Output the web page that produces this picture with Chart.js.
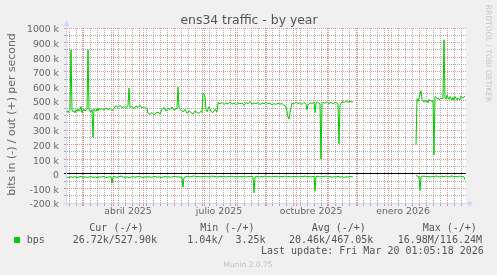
<!DOCTYPE html>
<html><head><meta charset="utf-8">
<script src="https://cdn.jsdelivr.net/npm/chart.js@4.4.1/dist/chart.umd.min.js"></script>
<style>html,body{margin:0;padding:0;background:#F0F0F0;}canvas{display:block}</style>
</head><body>
<canvas id="c" width="497" height="275" style="width:497px;height:275px"></canvas>
<script>
// ---- data (x = days since start of the 400-day window, values in kbit/s) ----
const outDays = [
 1,2,3,4,5,6,7,8,9,10,
 11,12,13,14,15,16,17,18,19,20,
 21,22,23,24,25,26,27,28,29,30,
 31,32,33,34,36,38,40,42,44,46,
 48,50,52,54,56,58,60,62,63,64,
 66,68,70,72,74,76,78,80,81,82,
 84,86,88,90,92,94,96,98,100,102,
 104,106,108,110,111,112,113,115,117,119,
 121,123,125,127,129,131,133,135,136,137,
 139,140,141,143,145,147,149,150,151,152,
 154,156,158,160,162,164,166,168,170,172,
 174,176,178,180,182,184,186,188,190,192,
 194,196,198,200,202,204,206,208,210,212,
 214,216,218,220,222,223,224,226,228,230,
 232,234,236,238,240,241,242,244,246,248,
 249,250,251,252,254,255,256,257,259,261,
 263,265,267,269,271,272,273,274,276,278,
 280,282,284,286,287,318,350,351,352,353,
 355,356,357,358,359,360,361,362,363,364,
 365,366,367,368,369,370,371,372,373,374,
 375,376,377,378,379,380,381,382,383,384,
 385,386,387,388,389,390,391,392,393,394,
 395,396,397,398,399
];
const outKbps = [
 435,420,432,440,850,438,425,432,418,440,
 428,445,430,438,462,420,440,445,430,438,
 442,850,438,430,425,440,252,445,435,428,
 448,432,450,440,448,435,452,440,448,432,
 450,468,455,470,452,462,448,470,588,455,
 462,448,466,455,470,452,462,448,450,415,
 408,420,405,418,422,410,442,455,430,452,
 440,458,435,445,450,594,452,440,425,442,
 415,432,420,410,432,420,415,430,420,553,
 530,440,425,460,428,420,442,430,425,488,
 480,490,476,486,480,492,478,486,474,488,
 480,486,470,490,480,496,478,486,480,490,
 474,486,480,492,480,486,472,482,476,484,
 478,482,470,462,390,375,420,486,478,492,
 482,488,476,490,478,439,470,488,482,492,
 420,485,495,488,480,101,480,490,484,494,
 480,492,478,490,486,480,206,470,496,488,
 500,490,498,492,495,null,200,514,496,520,
 569,510,500,492,505,495,500,488,510,500,
 505,495,505,130,530,525,515,520,508,512,
 520,515,518,919,520,512,540,522,510,530,
 520,505,525,508,530,518,505,520,512,508,
 535,525,518,530,528
];
const inDays = [
 1,3,5,7,9,11,13,15,17,19,
 21,23,25,27,29,31,33,35,37,39,
 41,43,45,46,47,49,51,53,55,57,
 59,61,63,65,67,69,71,73,75,77,
 79,81,83,85,87,89,91,93,95,97,
 99,101,103,105,107,109,111,113,115,116,
 117,118,120,122,124,126,128,130,132,134,
 136,138,140,142,144,146,148,150,152,154,
 156,158,160,162,164,166,168,170,172,174,
 176,178,180,182,184,186,187,188,189,191,
 193,195,197,199,201,203,205,207,209,211,
 213,215,217,219,221,223,225,227,229,231,
 233,235,237,239,241,243,245,247,248,249,
 250,252,254,256,258,260,262,264,266,268,
 270,272,274,276,278,280,282,284,286,287,
 318,350,351,352,353,354,355,356,358,360,
 362,364,366,368,370,372,374,376,378,380,
 382,384,386,388,390,392,394,396,397,398,
 399
];
const inKbps = [
 22,25,20,24,19,26,21,18,24,20,
 25,22,19,24,21,26,20,23,18,22,
 25,20,22,64,22,19,24,20,15,21,
 24,20,26,22,19,23,20,16,22,25,
 20,23,19,24,21,18,23,20,25,22,
 18,22,20,24,19,16,22,20,24,26,
 91,24,20,15,22,18,14,20,17,22,
 18,20,16,22,18,15,20,18,22,17,
 20,16,22,18,20,15,21,18,22,17,
 20,16,22,18,20,16,22,130,20,16,
 22,18,20,15,21,18,22,17,20,16,
 22,18,20,15,20,18,22,17,20,16,
 22,18,20,15,21,18,22,17,20,120,
 20,16,22,18,20,15,21,18,24,19,
 22,17,23,19,25,20,22,18,21,20,
 null,7,14,18,20,115,22,18,15,20,
 17,22,16,20,14,19,22,16,20,15,
 22,18,14,20,17,22,15,20,18,22,
 41
];
// axis ticks
const monthStartDays = [16,47,77,108,138,169,200,230,261,291,322,353,381];
const monthLabelDays = [62,153,245,337];
const monthLabels = ['abril 2025','julio 2025','octubre 2025','enero 2026'];
const yTickValues = [-200,-100,0,100,200,300,400,500,600,700,800,900,1000];
const yTickLabels = ['-200 k','-100 k','0','100 k','200 k','300 k','400 k','500 k','600 k','700 k','800 k','900 k','1000 k'];
// texts
const titleText = 'ens34 traffic - by year';
const yTitle = 'bits in (-) / out (+) per second';
const legendHead = ['Cur (-/+)','Min (-/+)','Avg (-/+)','Max (-/+)'];
const legendVals = ['26.72k/527.90k','1.04k/  3.25k','20.46k/467.05k','16.98M/116.24M'];
const lastUpdate = 'Last update: Fri Mar 20 01:05:18 2026';

const GREEN = '#00CC00';
const MGRID = 'rgba(222,79,79,0.6)';
const GRID = 'rgba(143,143,143,0.75)';
const AXIS = '#CFD6F8';
const FONT = '#666666';

// x tick list: month lines, weekly lines, label anchors
const weekDays = [];
for (let d = 3; d <= 400; d += 7) if (!monthStartDays.includes(d)) weekDays.push(d);
const xTickList = [...new Set([...monthStartDays, ...weekDays, ...monthLabelDays])].sort((a,b)=>a-b);
const yMinor = [];
for (let i = 0; i < yTickValues.length - 1; i++) yMinor.push((yTickValues[i] + yTickValues[i+1]) / 2);
const yTickList = [...yTickValues, ...yMinor].sort((a,b)=>a-b);

const decor = {
  id: 'decor',
  beforeDraw(chart) {
    const c = chart.ctx, a = chart.chartArea;
    c.save();
    c.fillStyle = '#F0F0F0'; c.fillRect(0, 0, chart.width, chart.height);
    c.fillStyle = '#FFFFFF'; c.fillRect(a.left, a.top, a.right - a.left, a.bottom - a.top);
    c.restore();
  },
  afterDraw(chart) {
    const c = chart.ctx, a = chart.chartArea;
    c.save();
    // axis extensions and arrows
    c.strokeStyle = AXIS; c.fillStyle = AXIS; c.lineWidth = 1;
    c.beginPath(); c.moveTo(a.left + 0.5, a.top - 3); c.lineTo(a.left + 0.5, a.bottom + 3); c.stroke();
    c.beginPath(); c.moveTo(a.left - 3, a.bottom + 0.5); c.lineTo(a.right + 3, a.bottom + 0.5); c.stroke();
    c.beginPath(); c.moveTo(a.left + 0.5, a.top - 8); c.lineTo(a.left - 2.5, a.top - 2); c.lineTo(a.left + 3.5, a.top - 2); c.closePath(); c.fill();
    c.beginPath(); c.moveTo(a.right + 7, a.bottom + 0.5); c.lineTo(a.right + 2, a.bottom - 2.5); c.lineTo(a.right + 2, a.bottom + 3.5); c.closePath(); c.fill();
    // title
    c.fillStyle = '#555555';
    c.font = '12.4px "DejaVu Sans"'; c.textAlign = 'center'; c.textBaseline = 'alphabetic';
    c.fillText(titleText, 249, 24);
    // y title
    c.save();
    c.translate(14.7, (a.top + a.bottom) / 2 - 1); c.rotate(-Math.PI / 2);
    c.font = '10.9px "DejaVu Sans"'; c.fillStyle = FONT; c.textAlign = 'center';
    c.fillText(yTitle, 0, 0);
    c.restore();
    // watermark right
    c.save();
    c.translate(485.5, 53.5); c.rotate(Math.PI / 2);
    c.font = '7.6px "DejaVu Sans"'; c.fillStyle = '#C6C6C6'; c.textAlign = 'center';
    c.fillText('RRDTOOL / TOBI OETIKER', 0, 0);
    c.restore();
    // legend
    c.font = '10px "DejaVu Sans Mono"'; c.fillStyle = '#555555'; c.textAlign = 'left';
    const hx = [89.3, 200.3, 311.7, 422.7];
    legendHead.forEach((t, i) => c.fillText(t, hx[i], 231));
    const vx = [72.7, 187.3, 289, 397.7];
    legendVals.forEach((t, i) => c.fillText(t, vx[i], 242.5));
    c.fillText('bps', 26.7, 242.5);
    c.fillText(lastUpdate, 261, 254);
    c.fillStyle = GREEN; c.fillRect(14, 237, 6, 6);
    c.font = '7.5px "DejaVu Sans"'; c.fillStyle = '#C0C0C0'; c.textAlign = 'center';
    c.fillText('Munin 2.0.75', 248, 267);
    c.restore();
  }
};

new Chart(document.getElementById('c'), {
  type: 'line',
  data: {
    datasets: [
      { label: 'out', data: outDays.map((d, i) => ({ x: d, y: outKbps[i] })),
        borderColor: GREEN, borderWidth: 1, pointRadius: 0, tension: 0, spanGaps: false },
      { label: 'in', data: inDays.map((d, i) => ({ x: d, y: inKbps[i] === null ? null : -inKbps[i] })),
        borderColor: GREEN, borderWidth: 1, pointRadius: 0, tension: 0, spanGaps: false }
    ]
  },
  options: {
    responsive: false, animation: false, events: [],
    layout: { padding: { left: 0, right: 31, top: 28, bottom: 0 } },
    plugins: { legend: { display: false }, tooltip: { enabled: false }, title: { display: false } },
    scales: {
      x: {
        type: 'linear', min: 0, max: 400,
        afterBuildTicks: s => { s.ticks = xTickList.map(v => ({ value: v })); },
        afterFit: s => { s.height = 72; },
        grid: {
          color: ctx => {
            const v = ctx.tick ? ctx.tick.value : null;
            if (monthStartDays.includes(v)) return MGRID;
            if (weekDays.includes(v)) return GRID;
            return 'rgba(0,0,0,0)';
          },
          lineWidth: 1, tickLength: 3
        },
        border: { color: AXIS, width: 1, dash: ctx => ctx.tick ? [1, 1] : [] },
        ticks: {
          autoSkip: false, maxRotation: 0, minRotation: 0, padding: 0, color: FONT,
          font: { family: "'DejaVu Sans'", size: 9.4 },
          callback: v => { const i = monthLabelDays.indexOf(v); return i >= 0 ? monthLabels[i] : ''; }
        }
      },
      y: {
        min: -200, max: 1000,
        afterBuildTicks: s => { s.ticks = yTickList.map(v => ({ value: v })); },
        afterFit: s => { s.width = 66; },
        grid: {
          color: ctx => {
            const v = ctx.tick ? ctx.tick.value : null;
            if (v === 0) return '#000000';
            return yTickValues.includes(v) ? MGRID : GRID;
          },
          lineWidth: 1, tickLength: 2
        },
        border: { color: AXIS, width: 1, dash: ctx => (ctx.tick && ctx.tick.value !== 0) ? [1, 1] : [] },
        ticks: {
          autoSkip: false, padding: 5, labelOffset: 2, color: FONT,
          font: { family: "'DejaVu Sans'", size: 9.3 },
          callback: v => { const i = yTickValues.indexOf(v); return i >= 0 ? yTickLabels[i] : ''; }
        }
      }
    }
  },
  plugins: [decor]
});
</script>
</body></html>
